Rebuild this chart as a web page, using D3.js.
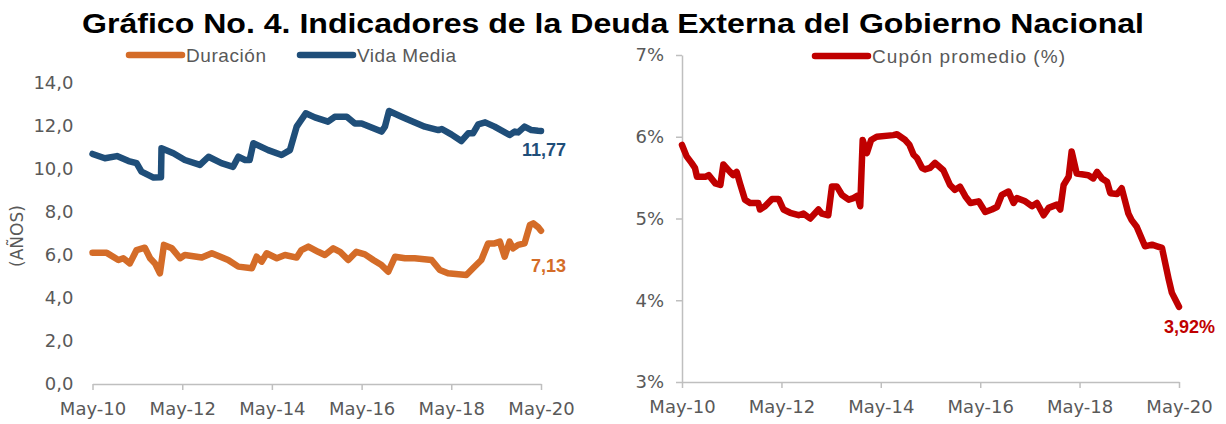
<!DOCTYPE html>
<html>
<head>
<meta charset="utf-8">
<script src="https://cdn.jsdelivr.net/npm/d3@7"></script>
<style>
  body { margin: 0; background: #fff; }
  svg { display: block; }
  .tick text { fill: #595959; font-family: "DejaVu Sans", sans-serif; font-size: 18px; }
  .leyenda { fill: #595959; font-family: "Liberation Sans Narrow", "Liberation Sans", sans-serif; font-size: 19px; }
</style>
</head>
<body>
<div id="grafico"></div>
<script>
// dimensiones generales
const width = 1226;
const height = 424;

// ---- datos ----
// Vida media (años)
const fechasVM = ["2010-05-01","2010-08-10","2010-11-16","2011-02-19","2011-04-25","2011-06-04","2011-09-10","2011-11-10","2011-11-14",
  "2012-02-19","2012-05-22","2012-09-22","2012-12-01","2013-03-16","2013-06-19","2013-08-01","2013-09-25","2013-11-01","2013-12-01",
  "2014-04-01","2014-07-19","2014-09-25","2014-11-19","2014-12-16","2015-02-01","2015-04-16","2015-08-01","2015-09-25","2016-01-01",
  "2016-03-07","2016-05-01","2016-10-10","2016-11-07","2016-12-10","2017-03-22","2017-06-10","2017-09-28","2018-01-16","2018-02-13",
  "2018-05-01","2018-07-22","2018-09-16","2018-10-25","2018-12-07","2019-02-01","2019-04-19","2019-08-19","2019-10-01","2019-10-28",
  "2019-12-19","2020-02-13","2020-04-07","2020-05-01"];
const valoresVM = [10.7,10.5,10.6,10.37,10.27,9.88,9.6,9.62,10.96,
  10.73,10.42,10.19,10.57,10.27,10.1,10.57,10.42,10.42,11.2,
  10.88,10.65,10.88,11.97,12.2,12.59,12.4,12.2,12.43,12.43,
  12.12,12.12,11.74,11.97,12.7,12.43,12.23,11.97,11.81,11.86,
  11.61,11.3,11.66,11.66,12.08,12.17,11.97,11.58,11.74,11.7,
  11.97,11.81,11.78,11.77];

// Duracion (años)
const fechasDur = ["2010-05-01","2010-08-25","2010-11-28","2011-01-07","2011-03-01","2011-04-25","2011-07-01","2011-08-13","2011-09-22",
  "2011-11-01","2011-12-04","2012-02-07","2012-04-13","2012-05-22","2012-10-07","2012-12-28","2013-05-10","2013-08-01","2013-11-19",
  "2013-12-28","2014-02-07","2014-03-19","2014-06-10","2014-08-16","2014-11-19","2014-12-28","2015-02-22","2015-05-13","2015-07-07",
  "2015-09-13","2015-11-07","2016-01-13","2016-03-19","2016-05-28","2016-08-04","2016-10-10","2016-12-04","2017-01-28","2017-04-19",
  "2017-07-07","2017-11-22","2018-01-28","2018-04-04","2018-09-01","2018-10-25","2019-01-01","2019-02-25","2019-04-19","2019-06-01",
  "2019-07-10","2019-08-19","2019-09-16","2019-10-28","2019-12-19","2020-02-01","2020-02-28","2020-04-07","2020-05-01"];
const valoresDur = [6.1,6.1,5.77,5.85,5.61,6.23,6.34,5.85,5.61,
  5.15,6.47,6.31,5.85,6.0,5.88,6.08,5.77,5.46,5.38,
  5.92,5.69,6.08,5.85,6.0,5.88,6.23,6.39,6.15,6.0,
  6.31,6.15,5.77,6.15,6.03,5.77,5.53,5.22,5.92,5.85,
  5.85,5.77,5.3,5.15,5.07,5.38,5.77,6.54,6.54,6.62,
  5.92,6.62,6.31,6.47,6.54,7.4,7.47,7.3,7.13];

// Cupon promedio (%)
const fechasCup = ["2010-05-01","2010-06-04","2010-07-10","2010-08-04","2010-08-19","2010-10-19","2010-11-13","2011-01-01","2011-02-07",
  "2011-03-01","2011-04-19","2011-05-13","2011-06-07","2011-07-01","2011-08-07","2011-09-13","2011-11-13","2011-11-25","2012-01-01",
  "2012-02-22","2012-04-10","2012-05-16","2012-07-04","2012-09-04","2012-10-10","2012-11-28","2013-01-28","2013-02-22","2013-04-10",
  "2013-05-07","2013-06-13","2013-07-19","2013-09-07","2013-10-13","2013-11-10","2013-12-01","2013-12-19","2014-01-19","2014-02-19",
  "2014-04-01","2014-08-01","2014-08-28","2014-10-28","2014-11-28","2014-12-28","2015-01-22","2015-02-28","2015-03-22","2015-04-28",
  "2015-06-04","2015-08-04","2015-09-22","2015-10-28","2015-12-04","2016-01-13","2016-02-19","2016-04-19","2016-06-07","2016-07-25",
  "2016-09-01","2016-10-07","2016-11-25","2017-01-01","2017-01-25","2017-03-28","2017-05-16","2017-06-22","2017-08-10","2017-09-16",
  "2017-11-16","2017-12-10","2018-01-04","2018-02-10","2018-03-04","2018-04-10","2018-07-04","2018-08-10","2018-09-07","2018-10-13",
  "2018-11-19","2018-12-13","2019-02-01","2019-03-07","2019-04-25","2019-05-19","2019-06-25","2019-08-25","2019-10-16","2019-11-22",
  "2019-12-28","2020-02-16","2020-03-10","2020-05-01"];
const valoresCup = [5.90,5.76,5.68,5.62,5.51,5.51,5.53,5.43,5.41,
  5.66,5.57,5.53,5.57,5.43,5.23,5.19,5.19,5.11,5.15,
  5.24,5.24,5.11,5.07,5.04,5.06,5.0,5.11,5.06,5.04,
  5.39,5.39,5.29,5.23,5.25,5.28,5.15,5.96,5.80,5.96,
  6.0,6.02,6.03,5.96,5.90,5.78,5.74,5.62,5.6,5.62,
  5.68,5.59,5.41,5.35,5.39,5.27,5.19,5.21,5.08,5.11,
  5.14,5.29,5.33,5.19,5.25,5.21,5.15,5.19,5.04,5.13,
  5.17,5.11,5.41,5.51,5.82,5.55,5.53,5.49,5.57,5.49,
  5.45,5.31,5.30,5.37,5.06,4.98,4.90,4.66,4.68,4.66,
  4.64,4.25,4.09,3.92];

// ticks
const ticksFecha = ["2010-05-01","2012-05-01","2014-05-01","2016-05-01","2018-05-01","2020-05-01"];
const ticksAnios = [0,2,4,6,8,10,12,14];
const ticksCupon = [3,4,5,6,7];

const titulo = "Gráfico No. 4. Indicadores de la Deuda Externa del Gobierno Nacional";

const colorVM = '#1F4E79';
const colorDur = '#D46C28';
const colorCup = '#C00000';
const gris = '#BFBFBF';

const parseFecha = d3.timeParse('%Y-%m-%d');
const fmtMes = d => 'May-' + d3.timeFormat('%y')(d);
const serie = (fechas, valores) => fechas.map((f, i) => ({fecha: parseFecha(f), valor: valores[i]}));

const svg = d3.select('#grafico')
    .append('svg')
    .attr('width', width)
    .attr('height', height);

svg.append('text')
    .text(titulo)
    .attr('x', 613)
    .attr('y', 33)
    .attr('text-anchor', 'middle')
    .attr('textLength', 1062)
    .attr('lengthAdjust', 'spacingAndGlyphs')
    .style('font-family', '"Liberation Sans", Arial, sans-serif')
    .style('font-weight', 'bold')
    .style('font-size', '28px')
    .style('fill', '#000');

// ---------- grafico izquierdo ----------
const xIzq = d3.scaleTime()
    .domain([parseFecha('2010-05-01'), parseFecha('2020-05-01')])
    .range([92.5, 541]);
const yIzq = d3.scaleLinear()
    .domain([0, 14])
    .range([384, 83]);

svg.append('g')
    .attr('transform', `translate(0, ${yIzq(0)})`)
    .call(d3.axisBottom(xIzq).tickValues(ticksFecha.map(parseFecha)).tickFormat(fmtMes)
        .tickSizeInner(6).tickSizeOuter(0).tickPadding(12))
    .call(g => g.selectAll('path, line').attr('stroke', gris).attr('stroke-width', 1.5));

svg.append('g')
    .attr('transform', `translate(${xIzq.range()[0]}, 0)`)
    .call(d3.axisLeft(yIzq).tickValues(ticksAnios).tickFormat(d => d3.format('.1f')(d).replace('.', ','))
        .tickSize(0).tickPadding(19))
    .call(g => g.select('.domain').remove());

svg.append('text')
    .text('(AÑOS)')
    .attr('transform', 'translate(23, 236) rotate(-90)')
    .attr('text-anchor', 'middle')
    .style('font-family', '"DejaVu Sans", sans-serif')
    .style('font-size', '17px')
    .style('fill', '#595959');

const lineaIzq = d3.line().x(d => xIzq(d.fecha)).y(d => yIzq(d.valor));

const datosVM = serie(fechasVM, valoresVM);
const datosDur = serie(fechasDur, valoresDur);

[[datosDur, colorDur], [datosVM, colorVM]].forEach(([datos, color]) => {
    svg.append('path')
        .datum(datos)
        .attr('d', lineaIzq)
        .attr('fill', 'none')
        .attr('stroke', color)
        .attr('stroke-width', 6.5)
        .attr('stroke-linejoin', 'round')
        .attr('stroke-linecap', 'round');
});

// etiquetas del ultimo dato
const ultVM = datosVM[datosVM.length - 1];
const ultDur = datosDur[datosDur.length - 1];
svg.append('text')
    .text(d3.format('.2f')(ultVM.valor).replace('.', ','))
    .attr('x', xIzq(ultVM.fecha) + 25)
    .attr('y', yIzq(ultVM.valor) + 25)
    .attr('text-anchor', 'end')
    .style('font-family', '"Liberation Sans", Arial, sans-serif')
    .style('font-weight', 'bold').style('font-size', '18px')
    .style('fill', colorVM);
svg.append('text')
    .text(d3.format('.2f')(ultDur.valor).replace('.', ','))
    .attr('x', xIzq(ultDur.fecha) + 25)
    .attr('y', yIzq(ultDur.valor) + 41)
    .attr('text-anchor', 'end')
    .style('font-family', '"Liberation Sans", Arial, sans-serif')
    .style('font-weight', 'bold').style('font-size', '18px')
    .style('fill', colorDur);

// leyenda izquierda
const leyIzq = [
    {nombre: 'Duración', color: colorDur, x: 129, largo: 80},
    {nombre: 'Vida Media', color: colorVM, x: 300, largo: 99}
];
leyIzq.forEach(l => {
    svg.append('line')
        .attr('x1', l.x).attr('x2', l.x + 53)
        .attr('y1', 55).attr('y2', 55)
        .attr('stroke', l.color).attr('stroke-width', 6.5).attr('stroke-linecap', 'round');
    svg.append('text')
        .attr('class', 'leyenda')
        .text(l.nombre)
        .attr('x', l.x + 57).attr('y', 62)
        .attr('textLength', l.largo)
        .attr('lengthAdjust', 'spacing');
});

// ---------- grafico derecho ----------
const xDer = d3.scaleTime()
    .domain([parseFecha('2010-05-01'), parseFecha('2020-05-01')])
    .range([682, 1179]);
const yDer = d3.scaleLinear()
    .domain([3, 7])
    .range([382, 55]);

svg.append('g')
    .attr('transform', `translate(0, ${yDer(3)})`)
    .call(d3.axisBottom(xDer).tickValues(ticksFecha.map(parseFecha)).tickFormat(fmtMes)
        .tickSizeInner(6).tickSizeOuter(0).tickPadding(12))
    .call(g => g.selectAll('path, line').attr('stroke', gris).attr('stroke-width', 1.5));

svg.append('g')
    .attr('transform', `translate(${xDer.range()[0]}, 0)`)
    .call(d3.axisLeft(yDer).tickValues(ticksCupon).tickFormat(d => d + '%')
        .tickSizeInner(6).tickSizeOuter(0).tickPadding(12))
    .call(g => g.selectAll('path, line').attr('stroke', gris).attr('stroke-width', 1.5));

const datosCup = serie(fechasCup, valoresCup);
svg.append('path')
    .datum(datosCup)
    .attr('d', d3.line().x(d => xDer(d.fecha)).y(d => yDer(d.valor)))
    .attr('fill', 'none')
    .attr('stroke', colorCup)
    .attr('stroke-width', 6.5)
    .attr('stroke-linejoin', 'round')
    .attr('stroke-linecap', 'round');

const ultCup = datosCup[datosCup.length - 1];
svg.append('text')
    .text(d3.format('.2f')(ultCup.valor).replace('.', ',') + '%')
    .attr('x', xDer(ultCup.fecha) + 36)
    .attr('y', yDer(ultCup.valor) + 26)
    .attr('text-anchor', 'end')
    .style('font-family', '"Liberation Sans", Arial, sans-serif')
    .style('font-weight', 'bold').style('font-size', '18px')
    .style('fill', colorCup);

svg.append('line')
    .attr('x1', 815).attr('x2', 868)
    .attr('y1', 56).attr('y2', 56)
    .attr('stroke', colorCup).attr('stroke-width', 6.5).attr('stroke-linecap', 'round');
svg.append('text')
    .attr('class', 'leyenda')
    .text('Cupón promedio (%)')
    .attr('x', 872).attr('y', 63)
    .attr('textLength', 193)
    .attr('lengthAdjust', 'spacing');
</script>
</body>
</html>
